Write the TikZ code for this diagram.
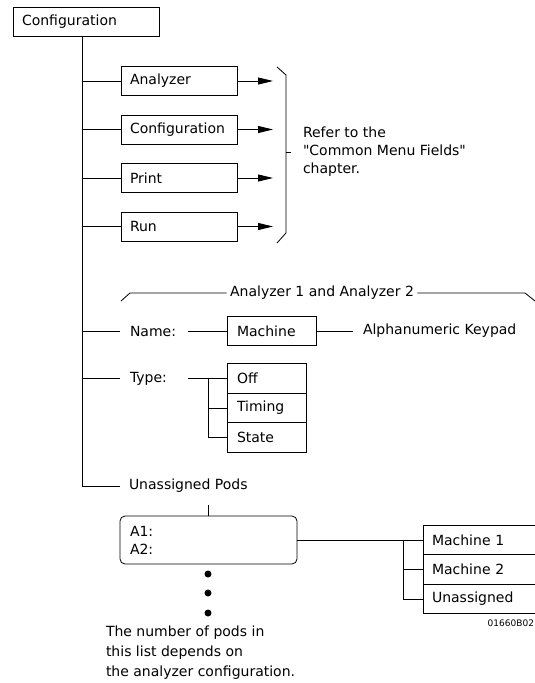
\documentclass[tikz,border=0pt]{standalone}
\usepackage{fontspec}
\setmainfont{DejaVu Sans}
\usetikzlibrary{arrows.meta, positioning}

\begin{document}
\begin{tikzpicture}[
    x=1pt, y=-1pt,
    line width=0.8pt,
    every node/.style={font=\fontsize{14}{18}\selectfont},
    menubox/.style={draw, minimum height=29pt, inner xsep=9pt, inner ysep=0pt, outer sep=0pt, align=left, anchor=west},
    fieldtext/.style={inner ysep=0pt, outer sep=0pt, align=left, anchor=west},
    arrow/.style={-{Triangle[length=15pt, width=7pt]}}
]
\path[use as bounding box, clip] (0,0) rectangle (535,683);

% Menu
\node[menubox, text width=128pt] (conf) at (13,21.5) {Configuration};
\coordinate (trunk) at (82,0);
\coordinate (tips) at (273,0);

\node[menubox, text width=98pt] (ana) at (121,81) {Analyzer};
\node[menubox, text width=98pt, below=19.5pt of ana] (cfg) {Configuration};
\node[menubox, text width=98pt, below=19.5pt of cfg] (prt) {Print};
\node[menubox, text width=98pt, below=19.5pt of prt] (run) {Run};

\foreach \n in {ana,cfg,prt,run} {
    \draw (\n.west -| trunk) -- (\n.west);
    \draw[arrow] (\n.east) -- (\n.east -| tips);
}

% Common fields
\draw (277,67) -- (286,75) -- (286,233) -- (277,243);
\coordinate (brmid) at (286,152);
\node[fieldtext, inner xsep=12pt] (refer) at (291,152) {Refer to the\\\textquotedbl Common Menu Fields\textquotedbl\\chapter.};
\draw (brmid) -- (refer.west);

% Analyzer 1 and Analyzer 2
\node[inner sep=3pt] (hdr) at (322,293) {Analyzer 1 and Analyzer 2};
\draw (121,301) -- (130,293) -- (hdr.west);
\draw (hdr.east) -- (525,293) -- (535,301);

\node[fieldtext, text width=48pt, inner xsep=10pt] (namelbl) at (120,331) {Name:};
\node[menubox, text width=69pt, inner xsep=10pt] (mach) at (227,331) {Machine};
\node[fieldtext, inner xsep=10pt] (keypad) at (353,331) {Alphanumeric Keypad};
\draw (namelbl.west -| trunk) -- (namelbl.west);
\draw (namelbl.east) -- (mach.west);
\draw (mach.east) -- (keypad.west);

\node[fieldtext, text width=48pt, inner xsep=10pt] (typelbl) at (120,378.5) {Type:};
\node[menubox, text width=59pt, inner xsep=10pt, minimum height=29.5pt] (off) at (227,378.5) {Off};
\node[menubox, text width=59pt, inner xsep=10pt, minimum height=29.5pt, below=0pt of off] (timing) {Timing};
\node[menubox, text width=59pt, inner xsep=10pt, minimum height=29.5pt, below=0pt of timing] (state) {State};
\coordinate (typefork) at (208,0);
\draw (typelbl.west -| trunk) -- (typelbl.west);
\draw (typelbl.east) -- (off.west);
\draw (typefork |- off.west) -- (typefork |- state.west) -- (state.west);
\draw (typefork |- timing.west) -- (timing.west);

% Unassigned pods
\node[fieldtext, inner xsep=9pt] (unpods) at (120,486) {Unassigned Pods};
\draw (conf.south -| trunk) -- (trunk |- unpods.west) -- (unpods.west);

\node[draw, rounded corners=5pt, minimum height=48pt, text width=157pt, inner xsep=10pt, outer sep=0pt, align=left, anchor=north west] (pods) at (120,516) {A1:\\A2:};
\coordinate (stub) at (208,505);
\draw (stub) -- (stub |- pods.north);
\foreach \y in {574,593,613}
    \fill (208,\y) circle (3.5pt);

\node[fieldtext, inner xsep=0pt, font=\fontsize{14}{20}\selectfont] (note) at (106,653) {The number of pods in\\this list depends on\\the analyzer configuration.};

\node[menubox, text width=104pt, minimum height=29.5pt] (mone) at (423,540) {Machine 1};
\node[menubox, text width=104pt, minimum height=29.5pt, below=0pt of mone] (mtwo) {Machine 2};
\node[menubox, text width=104pt, minimum height=29.5pt, below=0pt of mtwo] (unas) {Unassigned};
\coordinate (podfork) at (403,0);
\draw (mone.west -| pods.east) -- (mone.west);
\draw (podfork |- mone.west) -- (podfork |- unas.west) -- (unas.west);
\draw (podfork |- mtwo.west) -- (mtwo.west);

\node[fieldtext, inner xsep=0pt, anchor=east, font=\fontsize{9}{10}\selectfont] (code) at (534,623) {01660B02};

\end{tikzpicture}
\end{document}
